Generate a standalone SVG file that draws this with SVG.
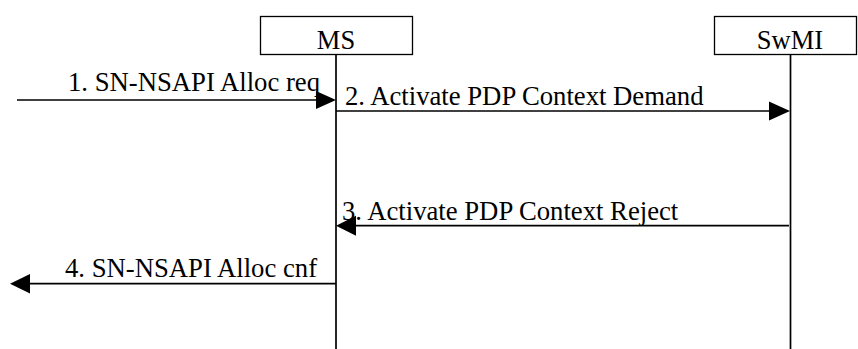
<svg xmlns="http://www.w3.org/2000/svg" width="858" height="349" viewBox="0 0 858 349">
<style>
.box{fill:#fff;stroke:#000;stroke-width:1.3}
.life{stroke:#000;stroke-width:1.7;fill:none}
.msg{stroke:#000;stroke-width:1.7;fill:none}
.head{fill:#000;stroke:none}
</style>
<rect width="858" height="349" fill="#fff"/>
<g id="node-ms">
<rect class="box" x="260.5" y="16.5" width="152" height="38"/>
<text font-family="Liberation Serif" font-size="26.5" x="336" y="49" text-anchor="middle">MS</text>
</g>
<g id="node-swmi">
<rect class="box" x="714.5" y="16.5" width="142" height="38"/>
<text font-family="Liberation Serif" font-size="26.5" x="790" y="49" text-anchor="middle">SwMI</text>
</g>
<g id="connectors">
<line class="life" x1="336" y1="54" x2="336" y2="349"/>
<line class="life" x1="790.5" y1="54" x2="790.5" y2="349"/>
<line class="msg" x1="17" y1="100" x2="318" y2="100"/>
<polygon class="head" points="336,100 316,91 316,109"/>
<line class="msg" x1="336" y1="111" x2="771" y2="111"/>
<polygon class="head" points="790,111 769,101.5 769,120.5"/>
<line class="msg" x1="789" y1="225.7" x2="354" y2="225.7"/>
<polygon class="head" points="336,225.7 356,215.7 356,235.7"/>
<line class="msg" x1="336" y1="283.7" x2="28" y2="283.7"/>
<polygon class="head" points="10,283.7 30,274 30,293.4"/>
<text font-family="Liberation Serif" font-size="26.7" x="68" y="90.7">1. SN-NSAPI Alloc req</text>
<text font-family="Liberation Serif" font-size="26.7" x="345" y="105">2. Activate PDP Context Demand</text>
<text font-family="Liberation Serif" font-size="26.7" x="342" y="220">3. Activate PDP Context Reject</text>
<text font-family="Liberation Serif" font-size="26.7" x="65" y="277">4. SN-NSAPI Alloc cnf</text>
</g>
</svg>
